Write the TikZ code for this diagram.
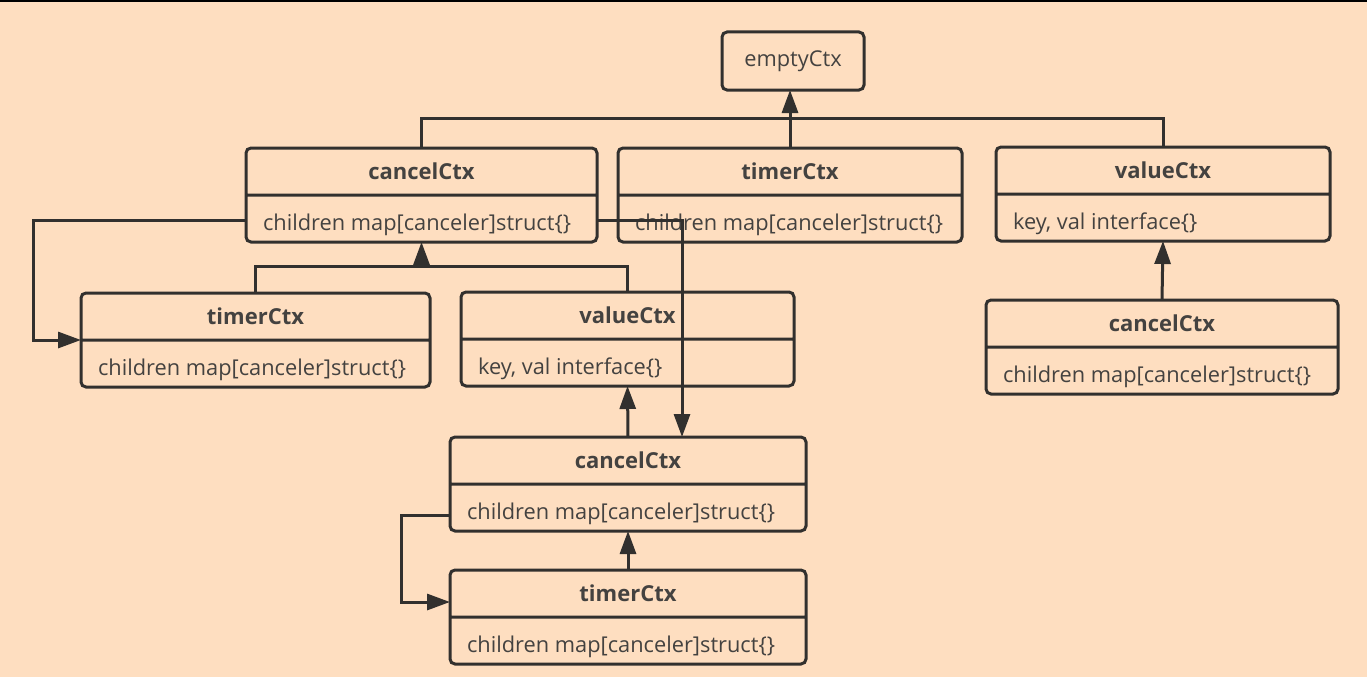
\documentclass[tikz,border=0pt]{standalone}
\usepackage{xcolor}
\usepackage{fontspec}
\setmainfont{Open Sans}
\usetikzlibrary{shapes.multipart,arrows.meta,calc}

\definecolor{fondo}{RGB}{254,222,192}
\definecolor{trazo}{RGB}{50,48,46}
\definecolor{letra}{RGB}{68,66,64}

% alto fijo de cada parte de la clase
\newcommand\titulo[1]{\rule[-14pt]{0pt}{44pt}{\fontsize{22}{24}\selectfont\bfseries #1}}
\newcommand\campo[1]{\rule[-10pt]{0pt}{44pt}#1}

\tikzset{
  clase/.style={rectangle split, rectangle split parts=2,
    rectangle split part align={center,left},
    draw=trazo, line width=3pt, rounded corners=5pt,
    inner xsep=17pt, inner ysep=0pt,
    outer sep=0pt, anchor=north west, text=letra,
    font=\fontsize{21.8}{24}\selectfont},
  simple/.style={draw=trazo, line width=3pt, rounded corners=5pt,
    outer sep=0pt, anchor=north west, text=letra,
    font=\fontsize{21.8}{24}\selectfont},
  conector/.style={draw=trazo, line width=3pt},
  flecha/.style={conector, -{Triangle[width=16pt,length=23pt]}}
}

\begin{document}
\begin{tikzpicture}[x=1pt,y=-1pt]

    % fondo
    \fill[fondo] (0,0) rectangle (1367,677);
    \useasboundingbox (0,0) rectangle (1367,677);
    \draw[black, line width=2pt] (0,1) -- (1367,1);

    % raiz
    \node[simple, minimum width=142pt, minimum height=58pt] (empty) at (722,32) {emptyCtx};

    % primer nivel
    \node[clase, minimum width=351pt] (cancelTop) at (246,148)
        {\titulo{cancelCtx}\nodepart{two}\campo{children map[canceler]struct\{\}}};
    \node[clase, minimum width=344pt] (timerTop) at (618,148)
        {\titulo{timerCtx}\nodepart{two}\campo{children map[canceler]struct\{\}}};
    \node[clase, minimum width=334pt] (valueTop) at (996,147)
        {\titulo{valueCtx}\nodepart{two}\campo{key, val interface\{\}}};

    % segundo nivel
    \node[clase, minimum width=349pt] (timerLeft) at (81,293)
        {\titulo{timerCtx}\nodepart{two}\campo{children map[canceler]struct\{\}}};
    \node[clase, minimum width=333pt] (valueMid) at (461,292)
        {\titulo{valueCtx}\nodepart{two}\campo{key, val interface\{\}}};
    \node[clase, minimum width=352pt] (cancelRight) at (986,300)
        {\titulo{cancelCtx}\nodepart{two}\campo{children map[canceler]struct\{\}}};

    % tercer nivel
    \node[clase, minimum width=356pt] (cancelLow) at (450,437)
        {\titulo{cancelCtx}\nodepart{two}\campo{children map[canceler]struct\{\}}};
    \node[clase, minimum width=356pt] (timerLow) at (450,570)
        {\titulo{timerCtx}\nodepart{two}\campo{children map[canceler]struct\{\}}};

    % herencia hacia emptyCtx
    \draw[conector] (cancelTop.north) -- ++(0,-30) coordinate (busTop) -| (valueTop.north);
    \draw[flecha] (timerTop.north) -- (timerTop.north |- empty.south);

    % herencia hacia cancelCtx
    \draw[conector] (timerLeft.north) -- ++(0,-27) coordinate (busLeft) -| (valueMid.north);
    \draw[flecha] (cancelTop.south |- busLeft) -- (cancelTop.south);

    % hijos de cancelCtx
    \draw[flecha] ($(cancelTop.south west)+(0,-22)$) -- ++(-213,0) |- (timerLeft.west);
    \draw[flecha] ($(cancelTop.south east)+(0,-22)$) -| ($(cancelLow.north west)+(232,0)$);

    % cadena de abajo
    \draw[flecha] (cancelLow.north) -- (valueMid.south);
    \draw[flecha] (timerLow.north) -- (cancelLow.south);
    \draw[flecha] ($(cancelLow.south west)+(0,-16)$) -- ++(-49,0) |- ($(timerLow.north west)+(0,32)$);

    % rama derecha
    \draw[flecha] (cancelRight.north) -- (valueTop.south);

\end{tikzpicture}
\end{document}
